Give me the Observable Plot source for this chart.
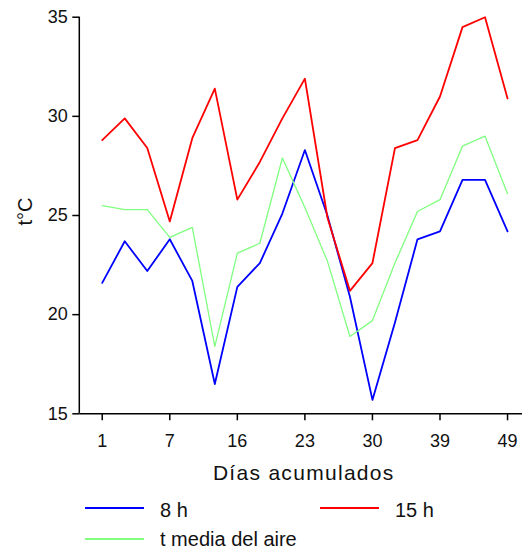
<!DOCTYPE html>
<html>
<head>
<meta charset="utf-8">
<script src="https://cdn.jsdelivr.net/npm/d3@7"></script>
<script src="https://cdn.jsdelivr.net/npm/@observablehq/plot@0.6"></script>
<style>
  html, body { margin: 0; padding: 0; background: #fff; }
  #wrap { width: 524px; height: 550px; position: relative; font-family: "Liberation Sans", Arial, sans-serif; }
  #legend { position: relative; width: 524px; height: 60px; }
  .lg-line { position: absolute; height: 2px; }
  .lg-text { position: absolute; font-size: 20px; line-height: 20px; color: #111; white-space: nowrap; }
</style>
</head>
<body>
<div id="wrap">
  <div id="chart"></div>
  <div id="legend"></div>
</div>
<script>
// Days (categorical x positions), and labelled ticks
const days = [1, 3, 5, 7, 10, 13, 16, 18, 21, 23, 25, 28, 30, 33, 36, 39, 42, 46, 49];
const tickDays = [1, 7, 16, 23, 30, 39, 49];
const yTicks = [15, 20, 25, 30, 35];

// Series values (°C)
const t8h  = [21.6, 23.7, 22.2, 23.8, 21.7, 16.5, 21.4, 22.6, 25.1, 28.3, 25.0, 20.9, 15.7, 19.6, 23.8, 24.2, 26.8, 26.8, 24.2];
const t15h = [28.8, 29.9, 28.4, 24.7, 28.9, 31.4, 25.8, 27.7, 29.9, 31.9, 24.9, 21.2, 22.6, 28.4, 28.8, 31.0, 34.5, 35.0, 30.9];
const tMedia = [25.5, 25.3, 25.3, 23.9, 24.4, 18.4, 23.1, 23.6, 27.9, 25.4, 22.7, 18.9, 19.7, 22.6, 25.2, 25.8, 28.5, 29.0, 26.1];

const seriesNames = ["8 h", "15 h", "t media del aire"];
const seriesColors = ["#0000ff", "#ff0000", "#80ff80"];
const seriesWidths = [1.8, 1.8, 1.3];
const seriesValues = [t8h, t15h, tMedia];

const xTitle = "Días acumulados";
const yTitle = "t°C";

const rows = seriesValues.map((vals, s) => vals.map((v, i) => ({day: days[i], t: v, serie: seriesNames[s]})));

const leftAxisLine = (index, scales, values, dimensions) => {
  const {marginLeft, marginTop, height, marginBottom} = dimensions;
  const ns = "http://www.w3.org/2000/svg";
  const l = document.createElementNS(ns, "line");
  l.setAttribute("x1", marginLeft); l.setAttribute("x2", marginLeft);
  l.setAttribute("y1", marginTop); l.setAttribute("y2", height - marginBottom);
  l.setAttribute("stroke", "#000"); l.setAttribute("stroke-width", 1.5);
  return l;
};

const chart = Plot.plot({
  width: 524,
  height: 490,
  marginLeft: 79.3,
  marginRight: 2,
  marginTop: 16.7,
  marginBottom: 76.7,
  style: {fontFamily: "'Liberation Sans', Arial, sans-serif", fontSize: "18px", color: "#111", background: "#fff", overflow: "visible"},
  x: {type: "point", domain: days, padding: 0.83, align: 0.6, round: false},
  y: {domain: [15, 35]},
  marks: [
    Plot.axisX(tickDays, {tickSize: 7, tickPadding: 13, label: null, stroke: "#000", strokeWidth: 1.5}),
    Plot.axisY(yTicks, {tickSize: 7, tickPadding: 5, label: null, stroke: "#000", strokeWidth: 1.5}),
    Plot.ruleY([15], {stroke: "#000", strokeWidth: 1.5}),
    leftAxisLine,
    ...rows.map((r, s) => Plot.lineY(r, {x: "day", y: "t", stroke: seriesColors[s], strokeWidth: seriesWidths[s]})),
    Plot.text([xTitle], {frameAnchor: "bottom", lineAnchor: "middle", textAnchor: "middle", dy: 59.5, dx: 2.6, fontSize: 21, fill: "#111"}),
    Plot.text([yTitle], {frameAnchor: "left", lineAnchor: "middle", textAnchor: "middle", rotate: -90, dx: -54.5, dy: -4, fontSize: 20, fill: "#111"})
  ]
});
// widen the x-axis title like the reference lettering
d3.select(chart).selectAll("text").filter(function() { return this.textContent === xTitle; }).style("letter-spacing", "1.3px");
document.getElementById("chart").appendChild(chart);

// Legend below the SVG
const legend = document.getElementById("legend");
const legendItems = [
  {s: 0, lineLeft: 85, textLeft: 160, row: 0},
  {s: 1, lineLeft: 320, textLeft: 395, row: 0},
  {s: 2, lineLeft: 85, textLeft: 160, row: 1}
];
const rowLineTop = [17, 48];
const rowTextTop = [9.7, 39];
legendItems.forEach(it => {
  const ln = document.createElement("div");
  ln.className = "lg-line";
  ln.style.left = it.lineLeft + "px";
  ln.style.width = "59px";
  ln.style.top = rowLineTop[it.row] + "px";
  ln.style.background = seriesColors[it.s];
  legend.appendChild(ln);
  const tx = document.createElement("div");
  tx.className = "lg-text";
  tx.style.left = it.textLeft + "px";
  tx.style.top = rowTextTop[it.row] + "px";
  tx.textContent = seriesNames[it.s];
  legend.appendChild(tx);
});
</script>
</body>
</html>
